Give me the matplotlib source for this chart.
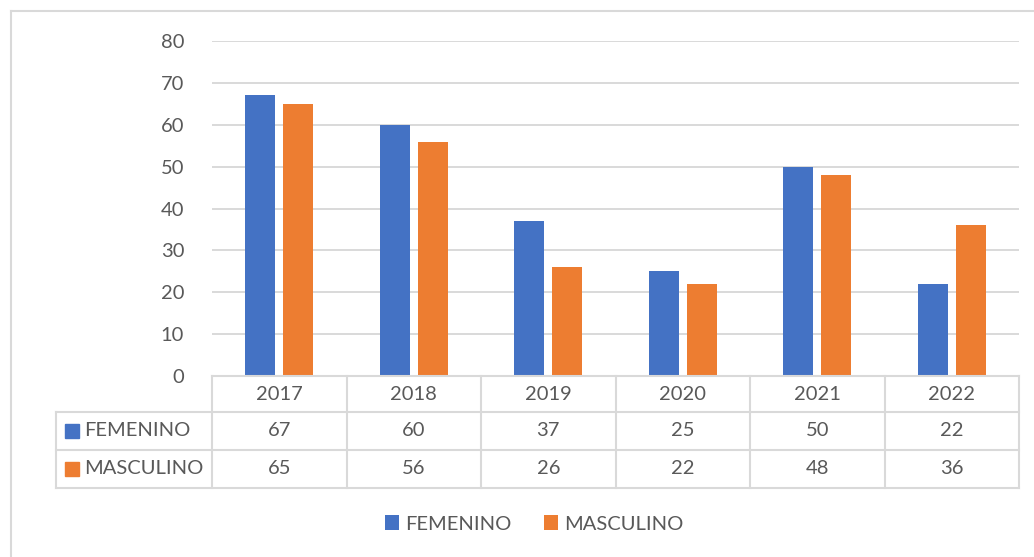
import matplotlib
matplotlib.use("Agg")
from matplotlib import pyplot as plt
from matplotlib.lines import Line2D
from matplotlib.patches import Rectangle
import numpy as np

years = ["2017", "2018", "2019", "2020", "2021", "2022"]
femenino = [67, 60, 37, 25, 50, 22]
masculino = [65, 56, 26, 22, 48, 36]
series_names = ["FEMENINO", "MASCULINO"]
y_ticks = [0, 10, 20, 30, 40, 50, 60, 70, 80]

blue = "#4472C4"
orange = "#ED7D31"
text_c = "#595959"
grid_c = "#D9D9D9"
fs = 14.5

plt.rcParams["font.family"] = ["Lato", "DejaVu Sans"]

W, H = 1034, 557
fig = plt.figure(figsize=(W / 100, H / 100), dpi=100)

def fx(px):
    return px / W

def fy(py):
    return 1 - py / H

ax = fig.add_axes([fx(212), fy(376), fx(1019) - fx(212), fy(41) - fy(376)])
x = np.arange(len(years))
bw = 0.225
off = 0.142
b1 = ax.bar(x - off, femenino, bw, color=blue, zorder=3)
b2 = ax.bar(x + off, masculino, bw, color=orange, zorder=3)
ax.set_xlim(-0.5, len(years) - 0.5)
ax.set_ylim(0, 80)
ax.set_yticks(y_ticks)
ax.set_yticklabels([str(t) for t in y_ticks], fontsize=fs, color=text_c)
ax.tick_params(axis="y", length=0, pad=20)
ax.set_xticks([])
ax.yaxis.grid(True, color=grid_c, linewidth=1.4, zorder=0)
for s in ax.spines.values():
    s.set_visible(False)

# outer chart border
fig.add_artist(Line2D([fx(11), fx(11)], [fy(11), 0], color=grid_c, lw=1.5))
fig.add_artist(Line2D([fx(11), 1], [fy(11), fy(11)], color=grid_c, lw=1.5))

# data table
col_edges = [212 + i * (1019 - 212) / len(years) for i in range(len(years) + 1)]
row_y = [376, 412, 450, 488]
lw = 1.5
for xe in col_edges:
    fig.add_artist(Line2D([fx(xe), fx(xe)], [fy(376), fy(488)], color=grid_c, lw=lw))
fig.add_artist(Line2D([fx(56), fx(56)], [fy(412), fy(488)], color=grid_c, lw=lw))
fig.add_artist(Line2D([fx(212), fx(1019)], [fy(376), fy(376)], color=grid_c, lw=lw))
for ry in row_y[1:]:
    fig.add_artist(Line2D([fx(56), fx(1019)], [fy(ry), fy(ry)], color=grid_c, lw=lw))

for i, yr in enumerate(years):
    cx = (col_edges[i] + col_edges[i + 1]) / 2
    fig.text(fx(cx), fy(394), yr, ha="center", va="center", fontsize=fs, color=text_c)
    fig.text(fx(cx), fy(431), str(femenino[i]), ha="center", va="center", fontsize=fs, color=text_c)
    fig.text(fx(cx), fy(469), str(masculino[i]), ha="center", va="center", fontsize=fs, color=text_c)

for name, col, cy in [(series_names[0], blue, 431), (series_names[1], orange, 469)]:
    fig.add_artist(Rectangle((fx(65), fy(cy + 7)), fx(14), fy(cy - 7) - fy(cy + 7), color=col))
    fig.text(fx(84), fy(cy), name, ha="left", va="center", fontsize=fs, color=text_c)

fig.legend([b1, b2], series_names, loc="center", bbox_to_anchor=(fx(534), fy(524)),
           ncol=2, frameon=False, fontsize=fs, labelcolor=text_c,
           handlelength=0.7, handleheight=0.7, handletextpad=0.3, columnspacing=1.6)

fig.savefig("out.png", dpi=100)
